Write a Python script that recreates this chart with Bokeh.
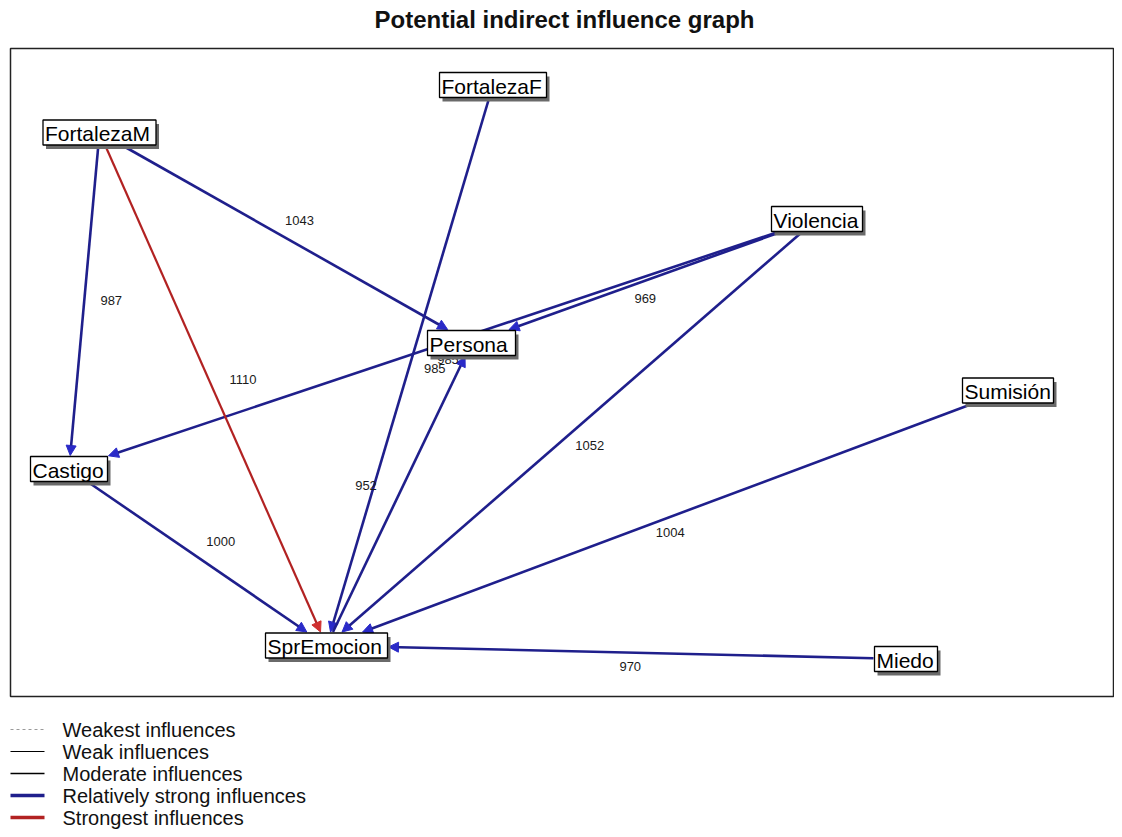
import math
from bokeh.plotting import figure
from bokeh.models import Range1d, ColumnDataSource, Arrow, NormalHead
from bokeh.core.properties import value
from bokeh.embed import file_html
from bokeh.resources import INLINE

# ---------------- data ----------------
title = "Potential indirect influence graph"

nodes = ["FortalezaF", "FortalezaM", "Violencia", "Persona",
         "Sumisión", "Castigo", "SprEmocion", "Miedo"]

edge_from = ["FortalezaM", "FortalezaM", "FortalezaM", "FortalezaF",
             "Violencia", "Violencia", "Violencia", "Sumisión",
             "Miedo", "Castigo", "SprEmocion"]
edge_to = ["Castigo", "SprEmocion", "Persona", "SprEmocion",
           "Persona", "Castigo", "SprEmocion", "SprEmocion",
           "SprEmocion", "SprEmocion", "Persona"]
edge_value = [987, 1110, 1043, 985, 969, 985, 1052, 1004, 970, 1000, 952]
edge_class = ["strong", "strongest", "strong", "strong",
              "strong", "strong", "strong", "strong",
              "strong", "strong", "strong"]

legend_labels = ["Weakest influences", "Weak influences", "Moderate influences",
                 "Relatively strong influences", "Strongest influences"]

# ---------------- layout (map positions, in picture pixels) ----------------
node_x = [492.5, 99, 816.5, 471, 1007.5, 68.5, 326, 905.5]
node_y = [84.5, 132, 218.5, 342.5, 390, 468.5, 645, 658.5]
node_w = [107, 113, 91, 88, 91, 77, 122, 63]
node_h = 25
label_off = [(27, 0), (30, -10), (14, -17), (25, 3), (1, 17), (5, 15),
             (18, 13), (3, 14), (14, 14), (23, -16), (-33, -9)]

# ---------------- styles ----------------
FONT = value("Liberation Sans")
NAVY = "#1f1f8c"
NAVY_HEAD = "#2a2ac8"
RED = "#b22222"
style = {
    "strong": dict(color=NAVY, width=2.6, head=NAVY_HEAD),
    "strongest": dict(color=RED, width=2.2, head="#d03030"),
}

W, H = 1114, 829
p = figure(width=W, height=H, x_range=Range1d(0, W), y_range=Range1d(H, 0),
           toolbar_location=None, output_backend="svg", min_border=0,
           x_axis_type=None, y_axis_type=None, outline_line_color=None)
p.grid.visible = False
p.background_fill_color = "white"
p.border_fill_color = "white"

# frame
p.quad(left=[10], right=[1113], top=[48], bottom=[696], fill_color=None,
       line_color="#222222", line_width=1.5, level="underlay")

# title
p.text(x=[564], y=[19], text=[title], text_font=FONT, text_font_size="24px",
       text_font_style="bold", text_align="center", text_baseline="alphabetic",
       text_color="#111111")

idx = {n: i for i, n in enumerate(nodes)}


def clip(cx, cy, w, h, dx, dy):
    tx = (w / 2) / abs(dx) if dx else math.inf
    ty = (h / 2) / abs(dy) if dy else math.inf
    t = min(tx, ty)
    return cx + t * dx, cy + t * dy


for cls in ["strong", "strongest"]:
    d = dict(x0=[], y0=[], x1=[], y1=[])
    for s, t, c in zip(edge_from, edge_to, edge_class):
        if c != cls:
            continue
        a, b = idx[s], idx[t]
        dx = node_x[b] - node_x[a]
        dy = node_y[b] - node_y[a]
        x0, y0 = clip(node_x[a], node_y[a], node_w[a] + 2, node_h + 2, dx, dy)
        x1, y1 = clip(node_x[b], node_y[b], node_w[b] + 2, node_h + 2, -dx, -dy)
        d["x0"].append(x0); d["y0"].append(y0); d["x1"].append(x1); d["y1"].append(y1)
    st = style[cls]
    src = ColumnDataSource(d)
    arr = Arrow(source=src, x_start="x0", y_start="y0", x_end="x1", y_end="y1",
                line_color=st["color"], line_width=st["width"],
                end=NormalHead(size=10, fill_color=st["head"], line_color=st["head"]),
                level="underlay")
    p.add_layout(arr)

# edge labels
lx, ly, lt = [], [], []
for (s, t, v), (ox, oy) in zip(zip(edge_from, edge_to, edge_value), label_off):
    a, b = idx[s], idx[t]
    lx.append((node_x[a] + node_x[b]) / 2 + ox)
    ly.append((node_y[a] + node_y[b]) / 2 + oy)
    lt.append(str(v))
p.text(x=lx, y=ly, text=lt, text_font=FONT, text_font_size="13px",
       text_align="center", text_baseline="middle", text_color="#1a1a1a")

# nodes: shadow, box, text
p.rect(x=[x + 3 for x in node_x], y=[y + 4 for y in node_y], width=node_w,
       height=node_h, fill_color="#6a6a6a", line_color=None)
p.rect(x=node_x, y=node_y, width=node_w, height=node_h, fill_color="white",
       line_color="black", line_width=1.3)
p.text(x=[x - w / 2 + 2 for x, w in zip(node_x, node_w)], y=[y + 1 for y in node_y],
       text=nodes, text_font=FONT, text_font_size="21px", text_align="left",
       text_baseline="middle", text_color="black")

# legend
leg_y = [729, 751, 773, 795, 817]
leg_col = ["#9a9a9a", "black", "black", NAVY, RED]
leg_w = [1, 1, 1.5, 3.5, 3.5]
leg_dash = ["3 3", "solid", "solid", "solid", "solid"]
for yy, c, lw, ds in zip(leg_y, leg_col, leg_w, leg_dash):
    p.line(x=[10, 44], y=[yy, yy], line_color=c, line_width=lw, line_dash=ds)
p.text(x=[62] * 5, y=leg_y, text=legend_labels, text_font=FONT,
       text_font_size="20px", text_align="left", text_baseline="middle",
       text_color="#111111")

open("out.html", "w").write(file_html(p, INLINE))
